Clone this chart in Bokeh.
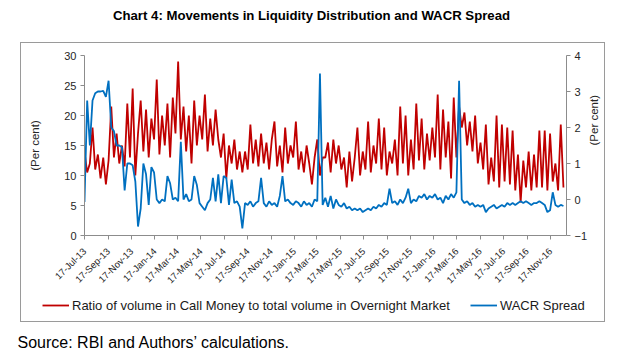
from math import pi
import pandas as pd
from bokeh.plotting import figure
from bokeh.layouts import column
from bokeh.models import (Range1d, LinearAxis, FixedTicker, DatetimeTickFormatter,
                          Legend, LegendItem, Label)
from bokeh.embed import file_html
from bokeh.resources import INLINE

# ---------------- data ----------------
title_text = "Chart 4: Movements in Liquidity Distribution and WACR Spread"
source_text = "Source: RBI and Authors\u2019 calculations."
series_names = ["Ratio of volume in Call Money to total volume in Overnight Market", "WACR Spread"]
axis_title = "(Per cent)"
first_date = "2013-07-17"
n_weeks = 180

call_ratio = [
    14, 10.5, 12, 18, 11, 13.5, 9.5, 13, 8.5, 12.5,
    21.5, 13, 17, 12, 15, 11.5, 22, 13, 24.5, 10,
    17, 22.5, 14, 21, 13, 19.5, 16, 26, 13.5, 20,
    15, 22, 13, 23, 17, 29, 16, 21.5, 14, 20,
    12, 22.5, 15, 20, 16, 23.5, 14, 19.5, 15, 21,
    16, 13, 17, 9.5, 15, 12, 16, 11, 14, 10.5,
    14, 11, 18.5, 12, 16, 11.5, 17, 12, 15.5, 11,
    16, 19, 11.5, 15, 10.5, 18, 12, 15, 13, 19,
    11, 14, 10.5, 15, 12, 8.5, 13, 16, 10, 13,
    13, 15.5, 10.5, 16, 12, 15, 11, 13, 8, 14,
    9, 13, 18, 10, 14, 11, 19, 10.5, 15, 12,
    19.5, 11, 18, 10, 14, 12, 16, 10, 21.5, 12,
    20, 10, 16, 11, 22, 12.5, 19.5, 11, 17, 12.5,
    18, 13, 23.5, 11, 21, 13, 19, 9.5, 23, 13,
    21.5, 18, 20.5, 15, 19, 14, 20, 12, 15.5, 11,
    18.5, 8.5, 13, 9, 20, 8, 18.5, 9, 18, 8.5,
    17.5, 7.5, 13.5, 5.5, 12.5, 8, 14, 7.5, 13.5, 8,
    17.5, 8, 17.5, 7.5, 17, 9, 12, 7.5, 18.5, 8,
]

wacr_spread = [
    -0.07, 2.75, 1.5, 2.75, 2.95, 3.0, 3.0, 3.02, 2.85, 3.3,
    2.0, 1.9, 1.5, 1.5, 1.45, 0.25, 1.0, 1.0, 0.95, 0.5,
    -0.75, -0.25, 1.0, 0.7, -0.15, 0.9, 0.75, 0.0, -0.1, 0.0,
    -0.05, 0.65, 0.45, 0.0, 0.05, -0.05, 1.6, 0.0, 0.15, -0.05,
    0.0, 0.65, 0.4, -0.1, -0.2, -0.3, -0.1, 0.0, 0.6, -0.05,
    0.7, -0.1, 0.65, 0.6, -0.15, 0.55, -0.1, -0.05, -0.2, -0.8,
    -0.1, -0.15, -0.05, -0.2, -0.1, -0.05, 0.6, -0.1, -0.2, -0.05,
    -0.15, -0.1, -0.2, 0.1, 0.65, -0.05, 0.0, -0.1, -0.15, -0.05,
    -0.1, -0.2, -0.05, -0.15, -0.1, -0.2, 0.0, -0.05, 3.5, -0.15,
    0.05, -0.2, 0.1, -0.25, 0.0, -0.15, -0.2, -0.1, -0.25, -0.2,
    -0.3, -0.25, -0.3, -0.25, -0.35, -0.3, -0.25, -0.3, -0.2, -0.25,
    -0.15, -0.2, -0.1, -0.15, 0.3, -0.1, -0.05, -0.15, 0.0, -0.1,
    0.05, 0.3, -0.1, 0.0, -0.05, 0.1, 0.05, 0.15, 0.0, 0.1,
    0.05, 0.15, 0.0, 0.05, -0.1, 0.1, 0.0, 0.15, 0.05, 0.2,
    3.3, 0.0, -0.1, -0.05, -0.15, -0.1, -0.2, -0.15, -0.2, -0.15,
    -0.35, -0.25, -0.2, -0.15, -0.25, -0.2, -0.15, -0.2, -0.1, -0.15,
    -0.1, -0.15, -0.1, -0.05, -0.1, -0.05, -0.1, -0.15, -0.1, -0.1,
    -0.05, -0.1, -0.15, -0.35, -0.3, 0.2, -0.15, -0.2, -0.15, -0.18,
]

tick_labels = ["17-Jul-13", "17-Sep-13", "17-Nov-13", "17-Jan-14", "17-Mar-14", "17-May-14",
               "17-Jul-14", "17-Sep-14", "17-Nov-14", "17-Jan-15", "17-Mar-15", "17-May-15",
               "17-Jul-15", "17-Sep-15", "17-Nov-15", "17-Jan-16", "17-Mar-16", "17-May-16",
               "17-Jul-16", "17-Sep-16", "17-Nov-16"]
left_ticks = [0, 5, 10, 15, 20, 25, 30]
right_ticks = [-1, 0, 1, 2, 3, 4]
x_start, x_end = "2013-07-17", "2016-12-29"

# ---------------- styling ----------------
FONT = "Liberation Sans"
RED, BLUE = "#C00000", "#0070C0"
LW = 1.8
W = 625
H_TOP, H_MAIN, H_BOT = 42, 250, 63
NAN = float("nan")


def blank_fig(height):
    f = figure(width=W, height=height, x_range=Range1d(0, 1), y_range=Range1d(0, 1),
               x_axis_type=None, y_axis_type=None, output_backend="svg",
               toolbar_location=None, title=None, min_border=0)
    f.outline_line_color = None
    f.background_fill_color = None
    f.border_fill_color = None
    f.grid.visible = False
    if "frame_align" in f.properties():
        f.frame_align = False
    return f


# ---- title strip ----
f_top = blank_fig(H_TOP)
f_top.add_layout(Label(x=311, y=H_TOP - 15, x_units="screen", y_units="screen", text=title_text,
                       text_font=FONT, text_font_size="13.2px", text_font_style="bold",
                       text_color="#000000", text_align="center", text_baseline="middle"))

# ---- main chart ----
dates = pd.date_range(first_date, periods=n_weeks, freq="7D")
tick_ms = [pd.to_datetime(t, format="%d-%b-%y").timestamp() * 1000 for t in tick_labels]
ms = lambda s: pd.Timestamp(s).timestamp() * 1000

p = figure(width=W, height=H_MAIN, x_axis_type="datetime",
           x_range=Range1d(ms(x_start), ms(x_end)), y_range=Range1d(0, 30),
           output_backend="svg", toolbar_location=None, title=None,
           min_border_left=84, min_border_right=59, min_border_top=13, min_border_bottom=55)
if "frame_align" in p.properties():
    p.frame_align = False
p.extra_y_ranges = {"right": Range1d(-1, 4)}
p.add_layout(LinearAxis(y_range_name="right"), "right")
p.outline_line_color = None
p.grid.visible = False
p.background_fill_color = "white"
p.border_fill_color = None

for ax in p.axis:
    ax.axis_line_color = "#8c8c8c"
    ax.major_tick_line_color = "#8c8c8c"
    ax.major_tick_out = 4
    ax.major_tick_in = 0
    ax.minor_tick_line_color = None
    ax.major_label_text_font = FONT
    ax.major_label_text_color = "#262626"
    ax.major_label_text_font_size = "11px"
    ax.major_label_standoff = 4

p.xaxis.ticker = FixedTicker(ticks=tick_ms)
fmt = "%d-%b-%y"
p.xaxis.formatter = DatetimeTickFormatter(days=fmt, months=fmt, years=fmt, hours=fmt, minutes=fmt)
p.xaxis.major_label_orientation = pi / 4
p.xaxis.major_label_text_font_size = "9.5px"
p.xaxis.major_label_standoff = 10

for i, (ax, ticks, so) in enumerate([(p.yaxis[0], left_ticks, 20), (p.yaxis[1], right_ticks, 4)]):
    ax.ticker = FixedTicker(ticks=ticks)
    ax.axis_label = axis_title
    ax.axis_label_text_font = FONT
    ax.axis_label_text_font_size = "11.5px"
    ax.axis_label_text_font_style = "normal"
    ax.axis_label_text_color = "#262626"
    ax.axis_label_standoff = so
    if i == 1 and "axis_label_orientation" in ax.properties():
        ax.axis_label_orientation = pi / 2

p.line(dates, call_ratio, line_color=RED, line_width=LW)
p.line(dates, wacr_spread, y_range_name="right", line_color=BLUE, line_width=LW)

# ---- legend + source strip ----
f_bot = blank_fig(H_BOT)
# legend-only renderers (a single missing value: nothing is drawn in the strip)
k1 = f_bot.line(x=[NAN], y=[NAN], line_color=RED, line_width=LW)
k2 = f_bot.line(x=[NAN], y=[NAN], line_color=BLUE, line_width=LW)
legend = Legend(items=[LegendItem(label=series_names[0], renderers=[k1]),
                       LegendItem(label=series_names[1], renderers=[k2])],
                orientation="horizontal", location=(42, 41),
                border_line_color=None, background_fill_alpha=0,
                padding=0, margin=0, spacing=20, glyph_width=27, glyph_height=18,
                label_height=18, label_standoff=3,
                label_text_font=FONT, label_text_font_size="13px", label_text_color="#1a1a1a")
f_bot.add_layout(legend, "center")
f_bot.add_layout(Label(x=17, y=13, x_units="screen", y_units="screen", text=source_text,
                       text_font=FONT, text_font_size="16px", text_color="#000000",
                       text_align="left", text_baseline="middle"))

# ---- assemble, with the outer chart border drawn as a CSS background ----
bc = "#9a9a9a"
g = f"linear-gradient({bc},{bc})"
layout = column(f_top, p, f_bot, spacing=0)
layout.styles = {"background": (f"{g} 20px 42px/585px 1px no-repeat, {g} 20px 321px/585px 1px no-repeat, "
                                f"{g} 20px 42px/1px 280px no-repeat, {g} 604px 42px/1px 280px no-repeat, #ffffff")}

open("out.html", "w").write(file_html(layout, INLINE))
